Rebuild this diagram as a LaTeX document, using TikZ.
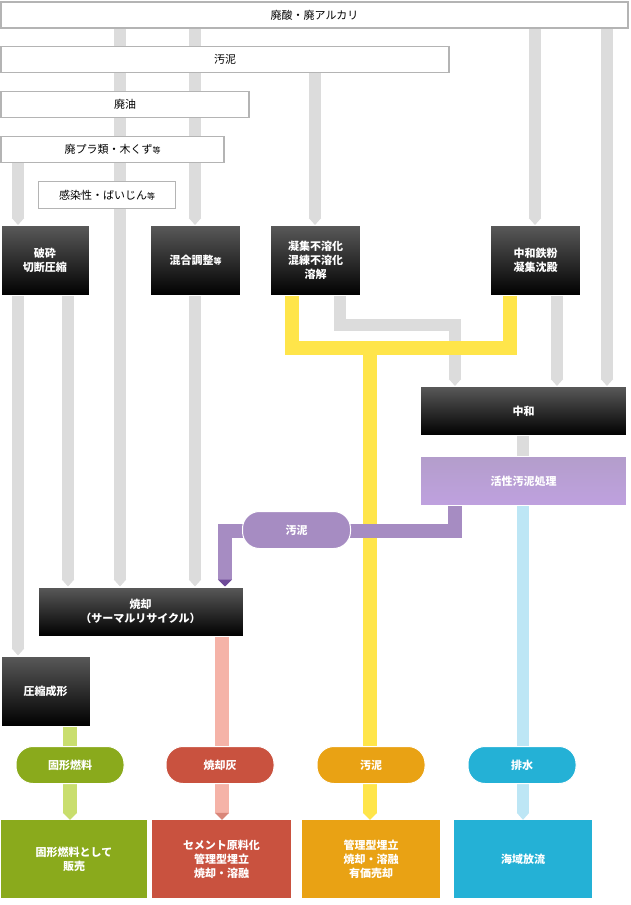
\documentclass[tikz,border=0pt]{standalone}
\usepackage{fontspec}
\setmainfont{Noto Sans CJK JP}
\usetikzlibrary{arrows.meta}
\pgfdeclarelayer{bg}
\pgfsetlayers{bg,main}
\definecolor{lgray}{HTML}{DCDCDC}
\definecolor{barline}{HTML}{B4B4B4}
\definecolor{yel}{HTML}{FFE54A}
\definecolor{purp}{HTML}{A68CC2}
\definecolor{dpurp}{HTML}{6E4A98}
\definecolor{pink}{HTML}{F5B3A8}
\definecolor{lgreen}{HTML}{C9DE6E}
\definecolor{lblue}{HTML}{BDE6F5}
\definecolor{cgreen}{HTML}{8AAA1C}
\definecolor{cred}{HTML}{C9523F}
\definecolor{corange}{HTML}{E9A214}
\definecolor{cblue}{HTML}{24B1D6}
\tikzset{
  bar/.style={draw=barline, line width=1.5pt, fill=white, minimum height=26pt, inner sep=0pt, font=\fontsize{11}{13}\selectfont},
  blk/.style={top color=black!65, bottom color=black, draw=white, line width=1pt, text=white, font=\bfseries\fontsize{11}{14}\selectfont, align=center, inner sep=0pt},
  pill/.style={rounded corners=17pt, minimum width=108pt, minimum height=37pt, text=white, font=\bfseries\fontsize{11}{13}\selectfont, draw=white, line width=1pt},
  outbox/.style={minimum height=78pt, text=white, align=center, font=\bfseries\fontsize{11}{14}\selectfont, inner sep=0pt},
  gl/.style={lgray, line width=12pt},
  ga/.style={gl, -{Triangle[width=12pt,length=7pt]}}
}
\begin{document}
\begin{tikzpicture}[x=1pt, y=-1pt]
  \useasboundingbox (0,0) rectangle (630,905);
  % columns
  \coordinate (xA) at (18,0);
  \coordinate (xB) at (68,0);
  \coordinate (xC) at (120,0);
  \coordinate (xD) at (195,0);
  \coordinate (xE) at (225,0);
  \coordinate (xF) at (315,0);
  \coordinate (xG) at (340,0);
  \coordinate (xH) at (455,0);
  \coordinate (xJ) at (535,0);
  \coordinate (xK) at (607,0);
  \coordinate (xM) at (523,0);
  \coordinate (xN) at (557,0);
  \coordinate (xP) at (70,0);
  \coordinate (xQ) at (222,0);
  \coordinate (xY1) at (292,0);
  \coordinate (xY2) at (510,0);
  \coordinate (xY3) at (370,0);
  \coordinate (gbend) at (0,325);
  \coordinate (ybend) at (0,348);
  \coordinate (pbend) at (0,531);

  % Sources
  \node (acid) [bar, minimum width=627pt] at (314.5,15) {廃酸・廃アルカリ};
  \node (sludge) [bar, minimum width=448pt] at (225,59.5) {汚泥};
  \node (oil) [bar, minimum width=248pt] at (125,104.5) {廃油};
  \node (plastic) [bar, minimum width=223pt] at (112.5,149.5) {廃プラ類・木くず{\fontsize{8}{9}\selectfont 等}};
  \node (infect) [bar, minimum width=137pt, minimum height=27pt] at (107,195) {感染性・ばいじん{\fontsize{8}{9}\selectfont 等}};

  % Treatments
  \node (crush) [blk, minimum width=88pt, minimum height=70pt] at (45,260.5) {破砕\\切断圧縮};
  \node (mix) [blk, minimum width=90pt, minimum height=70pt] at (195.5,260.5) {混合調整{\fontsize{8}{9}\selectfont 等}};
  \node (coag) [blk, minimum width=90pt, minimum height=70pt] at (315.5,260.5) {凝集不溶化\\混練不溶化\\溶解};
  \node (neufe) [blk, minimum width=90pt, minimum height=70pt] at (535.5,260.5) {中和鉄粉\\凝集沈殿};
  \node (neu) [blk, minimum width=206pt, minimum height=49pt] at (523.5,411) {中和};
  \node (act) [blk, top color=purp!85, bottom color=purp!115!black, minimum width=206pt, minimum height=49pt] at (523.5,481) {活性汚泥処理};
  \node (burn) [blk, minimum width=205pt, minimum height=49pt] at (140.5,611.5) {焼却\\（サーマルリサイクル）};
  \node (press) [blk, minimum width=89pt, minimum height=70pt] at (45.5,691) {圧縮成形};
  \node (psl) [pill, fill=purp, minimum width=108pt] at (296.5,530) {汚泥};

  % Results
  \node (pfuel) [pill, fill=cgreen] at (70,765) {固形燃料};
  \node (pash) [pill, fill=cred] at (220,765) {焼却灰};
  \node (psl2) [pill, fill=corange] at (371,765) {汚泥};
  \node (pwat) [pill, fill=cblue] at (522,765) {排水};
  \node (fuel) [outbox, fill=cgreen, minimum width=146pt] at (74,859) {固形燃料として\\販売};
  \node (cem) [outbox, fill=cred, minimum width=139pt] at (221.5,859) {セメント原料化\\管理型埋立\\焼却・溶融};
  \node (land) [outbox, fill=corange, minimum width=138pt] at (371,859) {管理型埋立\\焼却・溶融\\有価売却};
  \node (sea) [outbox, fill=cblue, minimum width=138pt] at (523,859) {海域放流};

  % Flows
  \begin{pgfonlayer}{bg}
    \draw[ga] (acid.south -| xC) -- (burn.north -| xC);
    \draw[ga] (acid.south -| xD) -- (mix.north -| xD);
    \draw[ga] (sludge.south -| xF) -- (coag.north -| xF);
    \draw[ga] (acid.south -| xJ) -- (neufe.north -| xJ);
    \draw[ga] (acid.south -| xK) -- (neu.north -| xK);
    \draw[ga] (plastic.south -| xA) -- (crush.north -| xA);
    \draw[ga] (crush.south -| xA) -- (press.north -| xA);
    \draw[ga] (crush.south -| xB) -- (burn.north -| xB);
    \draw[ga] (mix.south -| xD) -- (burn.north -| xD);
    \draw[ga] (coag.south -| xG) -- (gbend -| xG) -- (gbend -| xH) -- (neu.north -| xH);
    \draw[ga] (neufe.south -| xN) -- (neu.north -| xN);
    \draw[gl] (neu.south -| xM) -- (act.north -| xM);
    \draw[lblue, line width=12pt, -{Triangle[width=12pt,length=7pt]}] (act.south -| xM) -- (sea.north -| xM);
    \draw[yel, line width=14pt] (coag.south -| xY1) -- (ybend -| xY1) -- (ybend -| xY2) -- (neufe.south -| xY2);
    \draw[yel, line width=14pt, -{Triangle[width=14pt,length=7pt]}] (ybend -| xY3) -- (land.north -| xY3);
    \draw[purp, line width=14pt, -{Triangle[width=14pt,length=7pt,color=dpurp]}] (act.south -| xH) -- (pbend -| xH) -- (pbend -| xE) -- (burn.north -| xE);
    \draw[pink, line width=14pt, -{Triangle[width=14pt,length=7pt,color=cred!70]}] (burn.south -| xQ) -- (cem.north -| xQ);
    \draw[lgreen, line width=14pt, -{Triangle[width=14pt,length=7pt]}] (press.south -| xP) -- (fuel.north -| xP);
  \end{pgfonlayer}
\end{tikzpicture}
\end{document}
